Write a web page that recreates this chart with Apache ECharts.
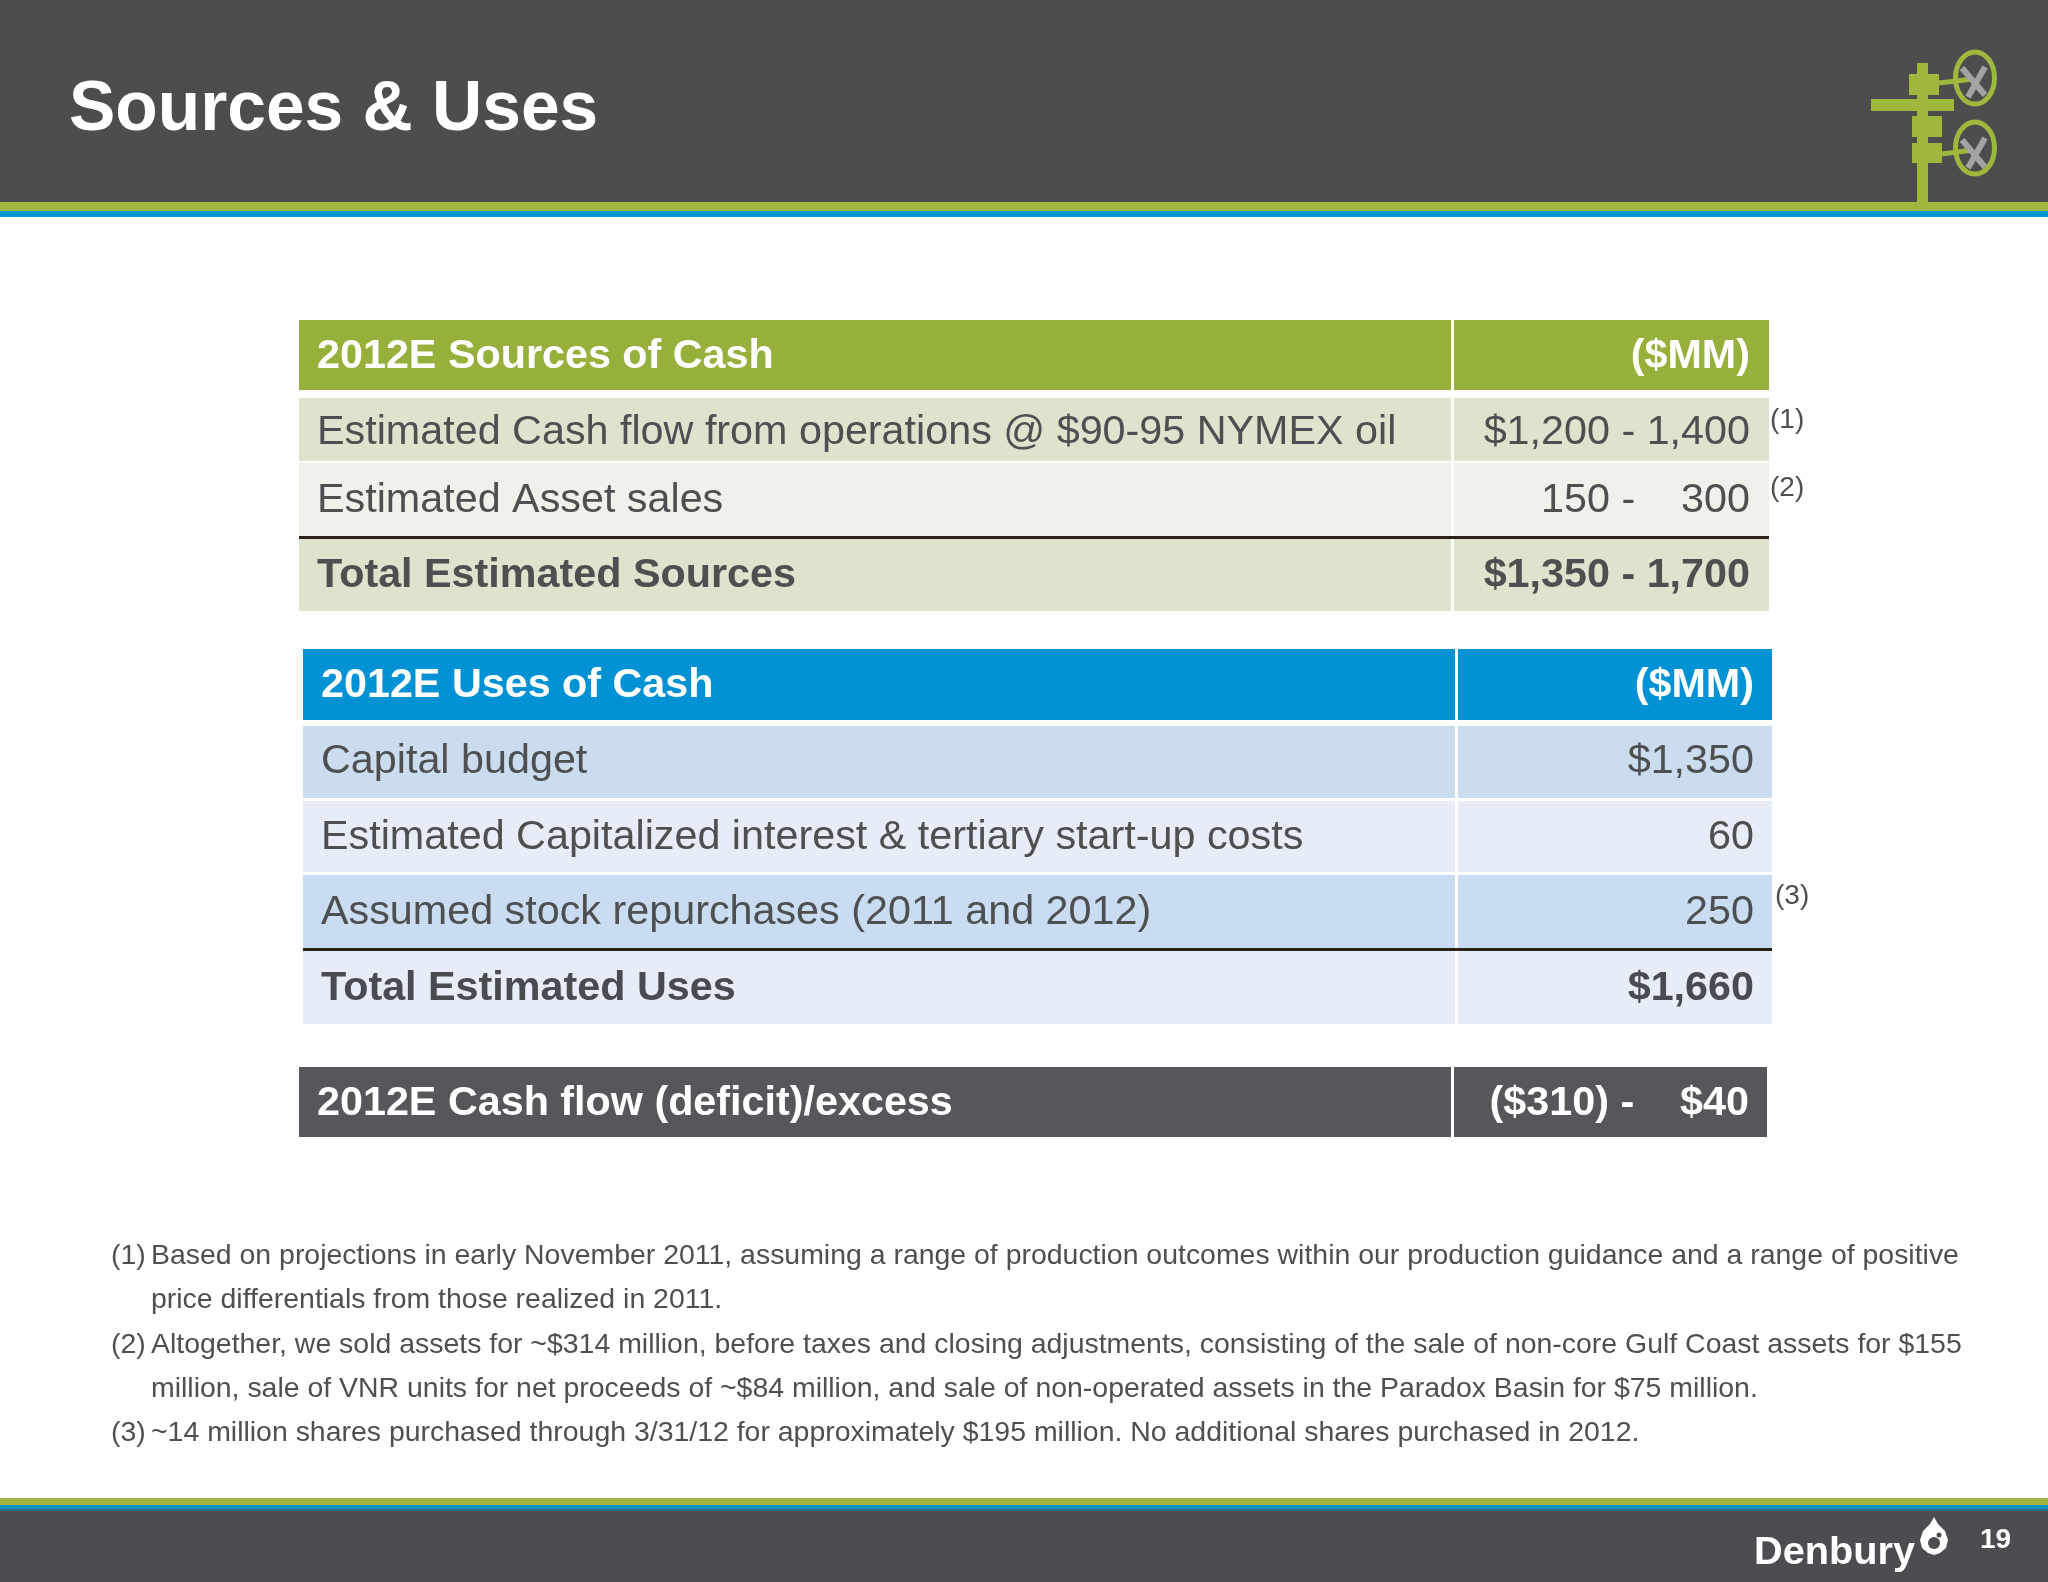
<!DOCTYPE html>
<html lang="en">
<head>
    <meta charset="UTF-8">
    <title>Sources &amp; Uses</title>
    <style type="text/css">
        html, body { margin: 0; padding: 0; background: #fff; }
        #main { width: 2048px; height: 1582px; }
    </style>
</head>
<body>
<div id="main"></div>
<script src="https://cdn.jsdelivr.net/npm/echarts@6/dist/echarts.min.js"></script>
<script type="text/javascript">
    // table contents
    var titleText = 'Sources & Uses';
    var pageNumber = '19';
    var unitLabel = '($MM)';

    var sourceLabels = ['2012E Sources of Cash', 'Estimated Cash flow from operations @ $90-95 NYMEX oil', 'Estimated Asset sales', 'Total Estimated Sources'];
    var sourceValues = [unitLabel, '$1,200 - 1,400', '150 -    300', '$1,350 - 1,700'];
    var useLabels = ['2012E Uses of Cash', 'Capital budget', 'Estimated Capitalized interest & tertiary start-up costs', 'Assumed stock repurchases (2011 and 2012)', 'Total Estimated Uses'];
    var useValues = [unitLabel, '$1,350', '60', '250', '$1,660'];
    var excessLabels = ['2012E Cash flow (deficit)/excess'];
    var excessValues = ['($310) -    $40'];

    var noteMarks = ['(1)', '', '(2)', '', '(3)'];
    var noteLines = [
        'Based on projections in early November 2011, assuming a range of production outcomes within our production guidance and a range of positive',
        'price differentials from those realized in 2011.',
        'Altogether, we sold assets for ~$314 million, before taxes and closing adjustments, consisting of the sale of non-core Gulf Coast assets for $155',
        'million, sale of VNR units for net proceeds of ~$84 million, and sale of non-operated assets in the Paradox Basin for $75 million.',
        '~14 million shares purchased through 3/31/12 for approximately $195 million. No additional shares purchased in 2012.'
    ];

    var FONT = '"Liberation Sans", Arial, sans-serif';
    var TEXT_COLOR = '#4d4f50';
    var BODY_SIZE = 41.3;

    // row bands: [top, bottom, text centre], plus colours
    var sourceLayout = {
        x: [299, 1451, 1454, 1769], textLeft: 317, textRight: 1750,
        rows: [[320, 390, 357], [398, 461, 433], [463, 536, 501], [539, 611, 576]],
        fills: ['#95b13c', '#dee3ce', '#f0f1ea', '#dee3ce'],
        colors: ['#fff', TEXT_COLOR, TEXT_COLOR, TEXT_COLOR],
        bold: [true, false, false, true],
        lineOver: 3
    };
    var useLayout = {
        x: [303, 1455, 1458, 1772], textLeft: 321, textRight: 1754,
        rows: [[649, 720, 686], [726, 798, 762], [801, 872, 838], [875, 948, 913], [951, 1024, 989]],
        fills: ['#0092d4', '#cbdcee', '#e7edf6', '#c9dcf1', '#e7edf6'],
        colors: ['#fff', TEXT_COLOR, TEXT_COLOR, TEXT_COLOR, '#484c50'],
        bold: [true, false, false, false, true],
        lineOver: 4
    };
    var excessLayout = {
        x: [299, 1451, 1454, 1767], textLeft: 317, textRight: 1749,
        rows: [[1067, 1137, 1104]],
        fills: ['#58565a'],
        colors: ['#fff'],
        bold: [true],
        lineOver: -1
    };

    function makeRows(labels, values, layout) {
        return labels.map(function (label, i) {
            return { label: label, value: values[i], layout: layout, index: i };
        });
    }
    var rows = [].concat(
        makeRows(sourceLabels, sourceValues, sourceLayout),
        makeRows(useLabels, useValues, useLayout),
        makeRows(excessLabels, excessValues, excessLayout)
    );

    function renderRow(params, api) {
        var row = rows[api.value(0)];
        var lay = row.layout;
        var band = lay.rows[row.index];
        var fill = lay.fills[row.index];
        var tl = api.coord([lay.x[0], band[0]]);
        var br = api.coord([lay.x[1], band[1]]);
        var tl2 = api.coord([lay.x[2], band[0]]);
        var br2 = api.coord([lay.x[3], band[1]]);
        var font = (lay.bold[row.index] ? 'bold ' : '') + BODY_SIZE + 'px ' + FONT;
        var textPosL = api.coord([lay.textLeft, band[2]]);
        var textPosR = api.coord([lay.textRight, band[2]]);
        var children = [
            { type: 'rect', shape: { x: tl[0], y: tl[1], width: br[0] - tl[0], height: br[1] - tl[1] }, style: { fill: fill } },
            { type: 'rect', shape: { x: tl2[0], y: tl2[1], width: br2[0] - tl2[0], height: br2[1] - tl2[1] }, style: { fill: fill } },
            { type: 'text', x: textPosL[0], y: textPosL[1], style: { text: row.label, font: font, fill: lay.colors[row.index], verticalAlign: 'middle', align: 'left' } },
            { type: 'text', x: textPosR[0], y: textPosR[1], style: { text: row.value, font: font, fill: lay.colors[row.index], verticalAlign: 'middle', align: 'right' } }
        ];
        if (lay.lineOver === row.index) {
            var lineA = api.coord([lay.x[0], band[0] - 1.5]);
            var lineB = api.coord([lay.x[3], band[0] - 1.5]);
            children.push({ type: 'line', shape: { x1: lineA[0], y1: lineA[1], x2: lineB[0], y2: lineB[1] }, style: { stroke: '#2b2118', lineWidth: 3 } });
        }
        return { type: 'group', children: children };
    }

    // page furniture
    function box(x, y, w, h, fill) {
        return { type: 'rect', shape: { x: x, y: y, width: w, height: h }, style: { fill: fill }, silent: true };
    }
    function ring(cx, cy) {
        return { type: 'ellipse', shape: { cx: cx, cy: cy, rx: 19.5, ry: 26 }, style: { fill: 'none', stroke: '#9db83c', lineWidth: 5 }, silent: true };
    }
    function bar(x1, y1, x2, y2, color, w) {
        return { type: 'line', shape: { x1: x1, y1: y1, x2: x2, y2: y2 }, style: { stroke: color, lineWidth: w }, silent: true };
    }
    function label(text, x, y, size, color, weight) {
        return { type: 'text', x: x, y: y, silent: true, style: { text: text, font: (weight ? weight + ' ' : '') + size + 'px ' + FONT, fill: color, verticalAlign: 'middle', align: 'left' } };
    }

    var LOGO_GREEN = '#9db83c', LOGO_GREY = '#a3a3a3';
    var furniture = [
        box(0, 0, 2048, 203, '#4d4d4e'),
        box(0, 202, 2048, 9, '#9db83c'),
        box(0, 211, 2048, 6, '#0095d3'),
        box(0, 1498, 2048, 7, '#a0b53f'),
        box(0, 1505, 2048, 4, '#1295bd'),
        box(0, 1509, 2048, 2, '#2c6f8c'),
        box(0, 1511, 2048, 71, '#4e4c50'),
        // wellhead logo
        box(1917, 63, 11, 140, LOGO_GREEN),
        box(1909, 74, 30, 21, LOGO_GREEN),
        box(1871, 99, 83, 12, LOGO_GREEN),
        box(1912, 116, 30, 21, LOGO_GREEN),
        box(1912, 143, 30, 20, LOGO_GREEN),
        bar(1939, 83, 1973, 79, LOGO_GREEN, 5),
        bar(1942, 154, 1973, 150, LOGO_GREEN, 5),
        bar(1962, 68, 1985, 95, LOGO_GREY, 6),
        bar(1985, 67, 1968, 97, LOGO_GREY, 6),
        bar(1962, 140, 1985, 167, LOGO_GREY, 6),
        bar(1985, 138, 1968, 168, LOGO_GREY, 6),
        ring(1975, 78),
        ring(1975, 148),
        // Denbury mark
        { type: 'polygon', silent: true, shape: { points: [[1934, 1517], [1938, 1524], [1945, 1531], [1948, 1540], [1946, 1548], [1940, 1553], [1934, 1555], [1928, 1553], [1922, 1548], [1920, 1540], [1923, 1531], [1930, 1524]] }, style: { fill: '#fff' } },
        { type: 'circle', silent: true, shape: { cx: 1934, cy: 1543, r: 6 }, style: { fill: '#4e4c50' } },
        { type: 'circle', silent: true, shape: { cx: 1939, cy: 1535, r: 2.5 }, style: { fill: '#4e4c50' } },
        label('Denbury', 1754, 1553, 39.7, '#fff', 'bold'),
        label(pageNumber, 1980, 1540, 28, '#fff', 'bold'),
        label(titleText, 69, 111, 69.5, '#fff', 'bold'),
        label('(1)', 1770, 420, 28, TEXT_COLOR),
        label('(2)', 1770, 488, 28, TEXT_COLOR),
        label('(3)', 1775, 896, 28, TEXT_COLOR)
    ];
    var NOTE_YS = [1256, 1300, 1345, 1389, 1433];
    noteLines.forEach(function (line, i) {
        if (noteMarks[i]) {
            furniture.push(label(noteMarks[i], 111, NOTE_YS[i], 28.44, TEXT_COLOR));
        }
        furniture.push(label(line, 151, NOTE_YS[i], 28.44, TEXT_COLOR));
    });

    var myChart = echarts.init(document.getElementById('main'), null, { renderer: 'canvas' });
    var option = {
        animation: false,
        backgroundColor: '#fff',
        grid: { left: 0, right: 0, top: 0, bottom: 0 },
        xAxis: { type: 'value', min: 0, max: 2048, show: false },
        yAxis: { type: 'value', min: 0, max: 1582, inverse: true, show: false },
        graphic: { elements: furniture },
        series: [{
            type: 'custom',
            silent: true,
            clip: false,
            renderItem: renderRow,
            encode: { x: 0, y: 0 },
            data: rows.map(function (row, i) { return [i]; })
        }]
    };
    myChart.setOption(option);
</script>
</body>
</html>
